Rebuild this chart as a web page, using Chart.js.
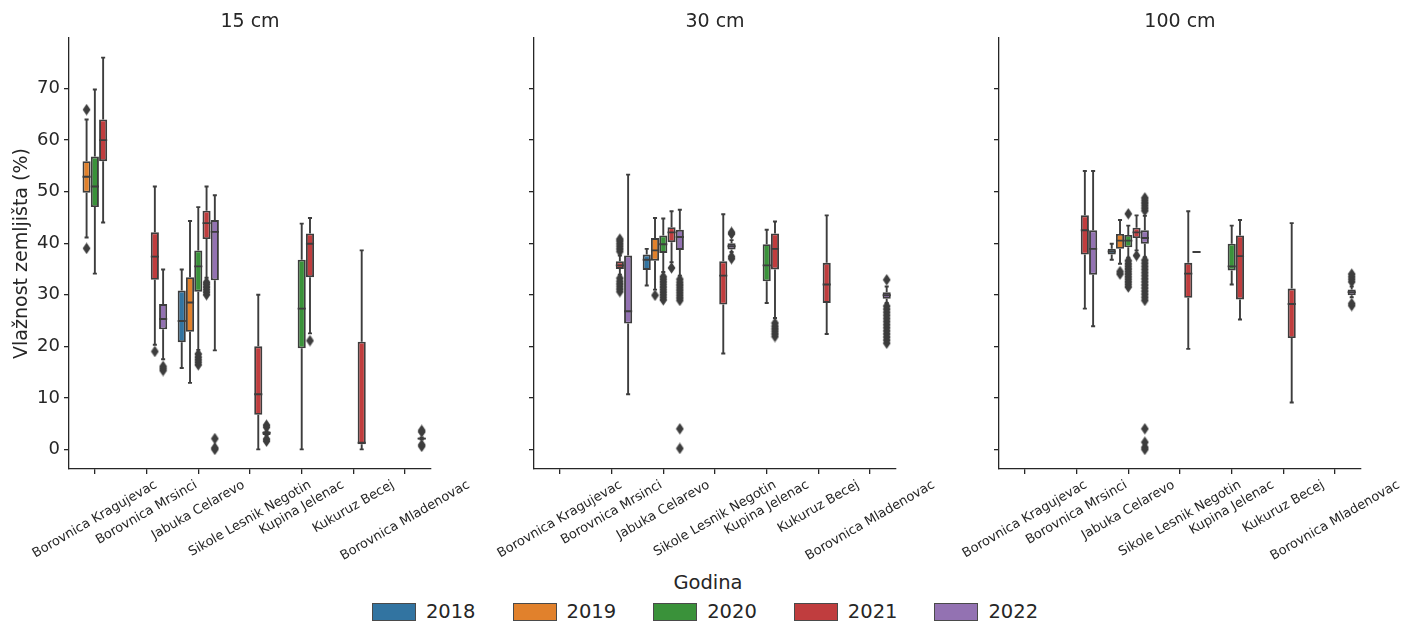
<!DOCTYPE html>
<html>
<head>
<meta charset="utf-8">
<script src="https://cdn.jsdelivr.net/npm/chart.js@4.4.1/dist/chart.umd.min.js"></script>
<style>
  html, body { margin: 0; padding: 0; background: #fff; }
  #wrap { position: relative; width: 1416px; height: 624px; overflow: hidden; font-family: "DejaVu Sans", sans-serif; color: #262626; }
  #wrap canvas { position: absolute; left: 0; top: 0; }
  #legendTitle { position: absolute; left: 0; top: 571px; width: 1416px; text-align: center; font-size: 19.5px; line-height: 24px; }
  #legend { position: absolute; left: -3px; top: 600px; width: 1416px; display: flex; justify-content: center; font-size: 19.5px; line-height: 24px; }
  .item { display: flex; align-items: center; margin: 0 18.5px; }
  .sw { width: 44px; height: 18px; box-sizing: border-box; border: 1px solid #4a4a4a; margin-right: 10px; }
</style>
</head>
<body>
<div id="wrap">
  <div id="legendTitle"></div>
  <div id="legend"></div>
</div>
<script>
const categories = ["Borovnica Kragujevac", "Borovnica Mrsinci", "Jabuka Celarevo", "Sikole Lesnik Negotin",
  "Kupina Jelenac", "Kukuruz Becej", "Borovnica Mladenovac"];
const years = ["2018", "2019", "2020", "2021", "2022"];
const colors = ["#3274a1", "#e1812c", "#3a923a", "#c03d3e", "#9372b2"];
const yTicks = [0, 10, 20, 30, 40, 50, 60, 70];
const panelTitles = ["15 cm", "30 cm", "100 cm"];
const yTitle = "Vlažnost zemljišta (%)";
const legendTitle = "Godina";

// box stats per category: [lower whisker, Q1, median, Q3, upper whisker]
const box15_2018 = [null, null, [15.8, 20.8, 24.9, 30.8, 34.9], null, null, null, null];
const box15_2019 = [[41.1, 49.8, 52.9, 55.9, 64.0], null, [12.9, 22.8, 28.5, 33.4, 44.3], null, null, null, null];
const box15_2020 = [[34.1, 47.0, 51.0, 56.8, 69.8], null, [19.3, 30.6, 35.5, 38.6, 47.0], null, [0.0, 19.6, 27.3, 36.8, 43.8], null, null];
const box15_2021 = [[44.0, 55.9, 60.0, 64.0, 76.0], [20.3, 32.9, 37.4, 42.1, 51.0], [33.3, 40.8, 43.9, 46.3, 51.0],
  [0.0, 6.7, 10.7, 20.0, 30.0], [22.5, 33.4, 39.9, 41.9, 44.9], [0.0, 1.0, 1.3, 20.9, 38.6], null];
const box15_2022 = [null, [17.5, 23.3, 25.3, 28.2, 34.9], [19.2, 32.8, 42.2, 44.5, 49.3], [2.8, 2.8, 3.2, 3.5, 3.5],
  null, null, [1.9, 1.9, 2.1, 2.3, 2.3]];

const box30_2018 = [null, null, [31.8, 34.8, 36.8, 37.8, 38.9], null, null, null, null];
const box30_2019 = [null, null, [31.0, 36.6, 38.6, 41.0, 44.9], null, null, null, null];
const box30_2020 = [null, null, [34.4, 38.1, 39.8, 41.5, 44.8], null, [28.4, 32.6, 35.7, 39.8, 42.6], null, null];
const box30_2021 = [null, [33.9, 35.0, 35.7, 36.5, 37.6], [36.3, 40.2, 42.1, 43.1, 46.2], [18.6, 28.1, 33.7, 36.5, 45.6],
  [25.5, 34.9, 38.9, 41.9, 44.2], [22.4, 28.4, 32.0, 36.2, 45.4], null];
const box30_2022 = [null, [10.7, 24.4, 26.8, 37.6, 53.3], [33.7, 38.7, 41.2, 42.6, 46.5], [38.3, 38.8, 39.4, 40.0, 40.6],
  null, null, [28.4, 29.2, 29.9, 30.5, 31.6]];

const box100_2018 = [null, null, [36.8, 37.8, 38.4, 38.9, 39.9], null, null, null, null];
const box100_2019 = [null, null, [36.0, 38.9, 40.5, 41.8, 44.5], null, null, null, null];
const box100_2020 = [null, null, [37.2, 39.2, 40.5, 41.6, 43.4], null, [32.0, 34.7, 35.5, 39.9, 43.4], null, null];
const box100_2021 = [null, [27.3, 37.8, 42.5, 45.4, 54.0], [38.6, 41.0, 42.1, 43.0, 45.4], [19.5, 29.4, 34.1, 36.2, 46.2],
  [25.2, 29.1, 37.5, 41.5, 44.5], [9.1, 21.6, 28.2, 31.2, 43.9], null];
const box100_2022 = [null, [23.9, 33.9, 38.9, 42.5, 54.0], [37.3, 39.9, 41.0, 42.5, 45.3], [38.3, 38.3, 38.3, 38.3, 38.3],
  null, null, [29.5, 29.9, 30.5, 31.0, 31.6]];

// outliers per category
const out15_2018 = [[], [], [], [], [], [], []];
const out15_2019 = [[65.9, 39.0], [], [], [], [], [], []];
const out15_2020 = [[], [], [16.4, 16.9, 17.4, 17.9, 18.5], [], [], [], []];
const out15_2021 = [[], [19.0], [30.0, 30.5, 31.0, 31.5, 32.0, 32.4], [], [21.1], [], []];
const out15_2022 = [[], [15.3, 15.7, 16.1], [0.0, 0.3, 2.1], [1.6, 2.0, 4.3, 4.7], [], [], [0.6, 0.9, 3.4, 3.7]];

const out30_2018 = [[], [], [], [], [], [], []];
const out30_2019 = [[], [], [29.9], [], [], [], []];
const out30_2020 = [[], [], [29.0, 29.5, 30.0, 30.5, 31.0, 31.5, 32.0, 32.5, 33.0, 33.5], [], [], [], []];
const out30_2021 = [[], [30.6, 31.1, 31.6, 32.1, 32.6, 33.2, 38.4, 38.9, 39.4, 39.9, 40.4, 40.8], [35.2], [],
  [21.9, 22.4, 22.9, 23.4, 23.9, 24.5], [], []];
const out30_2022 = [[], [], [0.2, 4.0, 28.9, 29.4, 29.9, 30.4, 30.9, 31.4, 31.9, 32.4, 33.0], [37.0, 37.4, 41.8, 42.1], [], [],
  [20.6, 21.2, 21.8, 22.4, 23.0, 23.6, 24.2, 24.8, 25.4, 26.0, 26.6, 27.2, 27.8, 32.9]];

const out100_2018 = [[], [], [], [], [], [], []];
const out100_2019 = [[], [], [34.0, 34.5], [], [], [], []];
const out100_2020 = [[], [], [31.5, 32.0, 32.5, 33.0, 33.5, 34.0, 34.5, 35.0, 35.5, 36.0, 36.6, 45.7], [], [], [], []];
const out100_2021 = [[], [], [37.6], [], [], [], []];
const out100_2022 = [[], [], [0.0, 0.4, 1.4, 4.0, 28.9, 29.5, 30.1, 30.7, 31.3, 31.9, 32.5, 33.1, 33.7, 34.3, 34.9, 35.5,
  36.1, 36.7, 46.3, 46.8, 47.3, 47.8, 48.3, 48.8], [], [], [], [27.9, 28.3, 32.5, 33.0, 33.5, 34.0]];

const panelBoxes = [
  [box15_2018, box15_2019, box15_2020, box15_2021, box15_2022],
  [box30_2018, box30_2019, box30_2020, box30_2021, box30_2022],
  [box100_2018, box100_2019, box100_2020, box100_2021, box100_2022]
];
const panelOuts = [
  [out15_2018, out15_2019, out15_2020, out15_2021, out15_2022],
  [out30_2018, out30_2019, out30_2020, out30_2021, out30_2022],
  [out100_2018, out100_2019, out100_2020, out100_2021, out100_2022]
];

// layout
const W = 1416, H = 624;
const plotLeft = [69, 534, 999];
const plotRight = [431, 896, 1361];
const plotBottom = 469;
const TXT = "#262626";
const LINE = "#3d3d3d";
const LW = 1.9;
const FONT = '"DejaVu Sans", sans-serif';

Chart.defaults.font.family = FONT;
Chart.defaults.color = TXT;

// thin diamond marker for outliers
const diamond = document.createElement("canvas");
diamond.width = 9;
diamond.height = 12;
(function () {
  const c = diamond.getContext("2d");
  c.fillStyle = LINE;
  c.beginPath();
  c.moveTo(4.5, 0.3);
  c.lineTo(8.4, 6);
  c.lineTo(4.5, 11.7);
  c.lineTo(0.6, 6);
  c.closePath();
  c.fill();
})();

function makePanel(p) {
  const canvas = document.createElement("canvas");
  canvas.width = W;
  canvas.height = H;
  document.getElementById("wrap").appendChild(canvas);

  const boxes = panelBoxes[p];
  const outs = panelOuts[p];

  const datasets = years.map((yr, h) => ({
    label: yr,
    data: boxes[h].map(b => b ? [b[1], b[3]] : null),
    backgroundColor: colors[h],
    borderColor: LINE,
    borderWidth: LW,
    borderSkipped: false,
    categoryPercentage: 0.8,
    barPercentage: 0.98
  }));

  // whiskers, caps, medians and outliers, placed on each bar
  const whiskers = {
    id: "whiskers",
    afterDatasetsDraw(chart) {
      const ctx = chart.ctx;
      const ys = chart.scales.y;
      ctx.save();
      ctx.strokeStyle = LINE;
      ctx.lineWidth = LW;
      years.forEach((yr, h) => {
        const meta = chart.getDatasetMeta(h);
        boxes[h].forEach((b, i) => {
          if (!b) return;
          const el = meta.data[i];
          const x = el.x, w = el.width;
          const [lo, q1, med, q3, hi] = b.map(v => ys.getPixelForValue(v));
          ctx.beginPath();
          ctx.moveTo(x, q1); ctx.lineTo(x, lo);
          ctx.moveTo(x, q3); ctx.lineTo(x, hi);
          ctx.moveTo(x - w / 4, lo); ctx.lineTo(x + w / 4, lo);
          ctx.moveTo(x - w / 4, hi); ctx.lineTo(x + w / 4, hi);
          ctx.moveTo(x - w / 2, med); ctx.lineTo(x + w / 2, med);
          ctx.stroke();
          outs[h][i].forEach(v => {
            const py = ys.getPixelForValue(v);
            ctx.drawImage(diamond, x - diamond.width / 2, py - diamond.height / 2);
          });
        });
      });
      ctx.restore();
    }
  };

  // rotated category labels, centred on the tick like matplotlib
  const xLabels = {
    id: "xLabels",
    afterDraw(chart) {
      const ctx = chart.ctx;
      const xs = chart.scales.x;
      const a = Math.PI / 6;
      ctx.save();
      ctx.font = "13px " + FONT;
      ctx.fillStyle = TXT;
      ctx.textAlign = "center";
      ctx.textBaseline = "middle";
      categories.forEach((c, i) => {
        const px = xs.getPixelForTick(i);
        const L = ctx.measureText(c).width;
        const bh = L * Math.sin(a) + 15 * Math.cos(a);
        const cy = xs.top + 5 + 3.5 + bh / 2;
        ctx.setTransform(1, 0, 0, 1, 0, 0);
        ctx.translate(px, cy);
        ctx.rotate(-a);
        ctx.fillText(c, 0, 0);
      });
      ctx.restore();
    }
  };

  new Chart(canvas, {
    type: "bar",
    data: { labels: categories, datasets: datasets },
    plugins: [whiskers, xLabels],
    options: {
      responsive: false,
      animation: false,
      devicePixelRatio: 1,
      layout: { padding: { left: plotLeft[p] - 69, right: W - plotRight[p], top: 0, bottom: 0 } },
      plugins: {
        legend: { display: false },
        tooltip: { enabled: false },
        title: {
          display: true,
          text: panelTitles[p],
          fullSize: false,
          color: TXT,
          font: { size: 19, weight: "normal" },
          padding: { top: 11, bottom: 4.2 }
        }
      },
      scales: {
        x: {
          type: "category",
          offset: true,
          afterFit: s => { s.height = H - plotBottom; },
          ticks: { display: false },
          grid: { display: true, offset: false, drawOnChartArea: false, drawTicks: true, tickLength: 5, color: TXT, lineWidth: 1.3 },
          border: { display: true, color: TXT, width: 1.3 }
        },
        y: {
          min: -3.8,
          max: 79.8,
          afterBuildTicks: s => { s.ticks = yTicks.map(v => ({ value: v })); },
          afterFit: s => { s.width = 69; },
          ticks: { display: p === 0, color: TXT, font: { size: 18 }, padding: 4 },
          grid: { display: true, drawOnChartArea: false, drawTicks: true, tickLength: 5, color: TXT, lineWidth: 1.3 },
          border: { display: true, color: TXT, width: 1.3 },
          title: {
            display: p === 0,
            text: yTitle,
            color: TXT,
            font: { size: 19 },
            padding: { top: 11, bottom: 0 }
          }
        }
      }
    }
  });
}

[0, 1, 2].forEach(makePanel);

// legend
document.getElementById("legendTitle").textContent = legendTitle;
const legend = document.getElementById("legend");
years.forEach((yr, h) => {
  const item = document.createElement("div");
  item.className = "item";
  const sw = document.createElement("span");
  sw.className = "sw";
  sw.style.background = colors[h];
  const lab = document.createElement("span");
  lab.textContent = yr;
  item.appendChild(sw);
  item.appendChild(lab);
  legend.appendChild(item);
});
</script>
</body>
</html>
